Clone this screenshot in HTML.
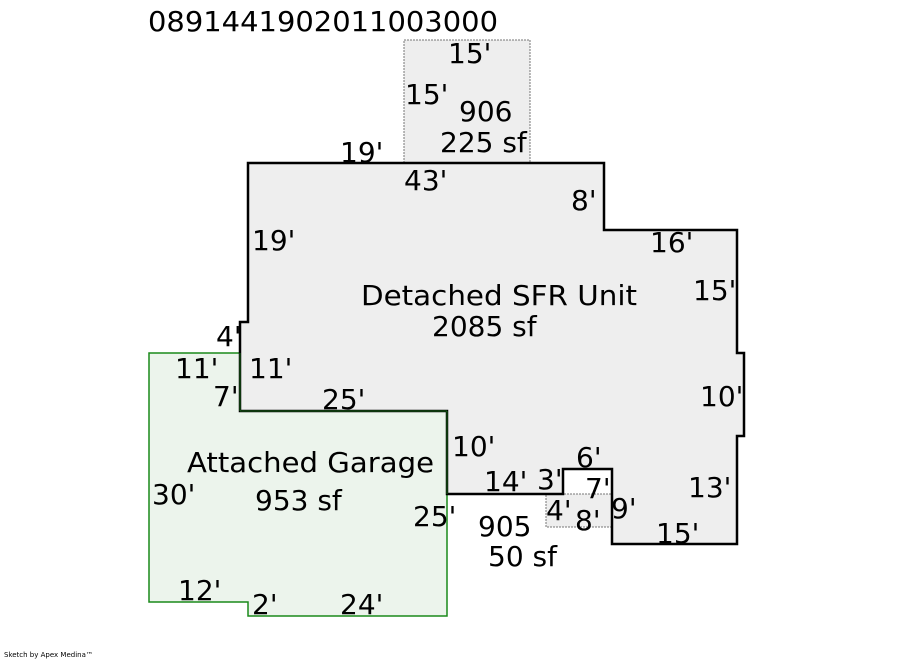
<!DOCTYPE html>
<html><head><meta charset="utf-8"><style>
html,body{margin:0;padding:0;background:#fff;}
svg{display:block;}
text{font-family:"DejaVu Sans","Liberation Sans",sans-serif;font-size:28px;fill:#000;}
</style></head><body>
<svg width="900" height="660" viewBox="0 0 900 660" xmlns="http://www.w3.org/2000/svg">
<rect x="404" y="40" width="126" height="123" fill="#eeeeee" stroke="#777" stroke-width="1" stroke-dasharray="2,1"/>
<rect x="546" y="494" width="66" height="33" fill="#eeeeee" stroke="#777" stroke-width="1" stroke-dasharray="2,1"/>
<path d="M149,353 L240,353 L240,411 L447,411 L447,616 L248,616 L248,602 L149,602 Z" fill="#ecf4ec" stroke="#1a8a1a" stroke-width="1.5"/>
<path d="M248,163 L604,163 L604,230 L737,230 L737,353 L744,353 L744,436 L737,436 L737,544 L612,544 L612,469 L563,469 L563,494 L447,494 L447,411 L240,411 L240,322 L248,322 Z" fill="#eeeeee" stroke="#000" stroke-width="2.5"/>
<line x1="240" y1="353" x2="240" y2="411" stroke="#1a6a1a" stroke-width="1"/>
<line x1="240" y1="411" x2="447" y2="411" stroke="#1a6a1a" stroke-width="1"/>
<line x1="447" y1="411" x2="447" y2="494" stroke="#1a6a1a" stroke-width="1"/>
<text x="148" y="31" textLength="350" lengthAdjust="spacingAndGlyphs" font-size="29">0891441902011003000</text>
<text x="448" y="63">15'</text>
<text x="405" y="104">15'</text>
<text x="459" y="121">906</text>
<text x="440" y="152">225 sf</text>
<text x="340" y="162">19'</text>
<text x="404" y="190">43'</text>
<text x="571" y="210">8'</text>
<text x="252" y="250">19'</text>
<text x="650" y="252">16'</text>
<text x="693" y="300">15'</text>
<text x="361" y="305" textLength="276" lengthAdjust="spacingAndGlyphs">Detached SFR Unit</text>
<text x="432" y="336">2085 sf</text>
<text x="216" y="346">4'</text>
<text x="175" y="378">11'</text>
<text x="249" y="378">11'</text>
<text x="213" y="406">7'</text>
<text x="322" y="409">25'</text>
<text x="700" y="406">10'</text>
<text x="452" y="456">10'</text>
<text x="187" y="472" textLength="247" lengthAdjust="spacingAndGlyphs">Attached Garage</text>
<text x="576" y="467">6'</text>
<text x="484" y="491">14'</text>
<text x="537" y="489">3'</text>
<text x="585" y="498">7'</text>
<text x="688" y="497">13'</text>
<text x="152" y="504">30'</text>
<text x="255" y="510">953 sf</text>
<text x="546" y="520">4'</text>
<text x="575" y="530">8'</text>
<text x="611" y="518">9'</text>
<text x="413" y="526">25'</text>
<text x="478" y="536">905</text>
<text x="656" y="543">15'</text>
<text x="488" y="566">50 sf</text>
<text x="178" y="600">12'</text>
<text x="252" y="614">2'</text>
<text x="340" y="614">24'</text>
<text x="4" y="657" style="font-size:7px">Sketch by Apex Medina™</text>
</svg>
</body></html>
